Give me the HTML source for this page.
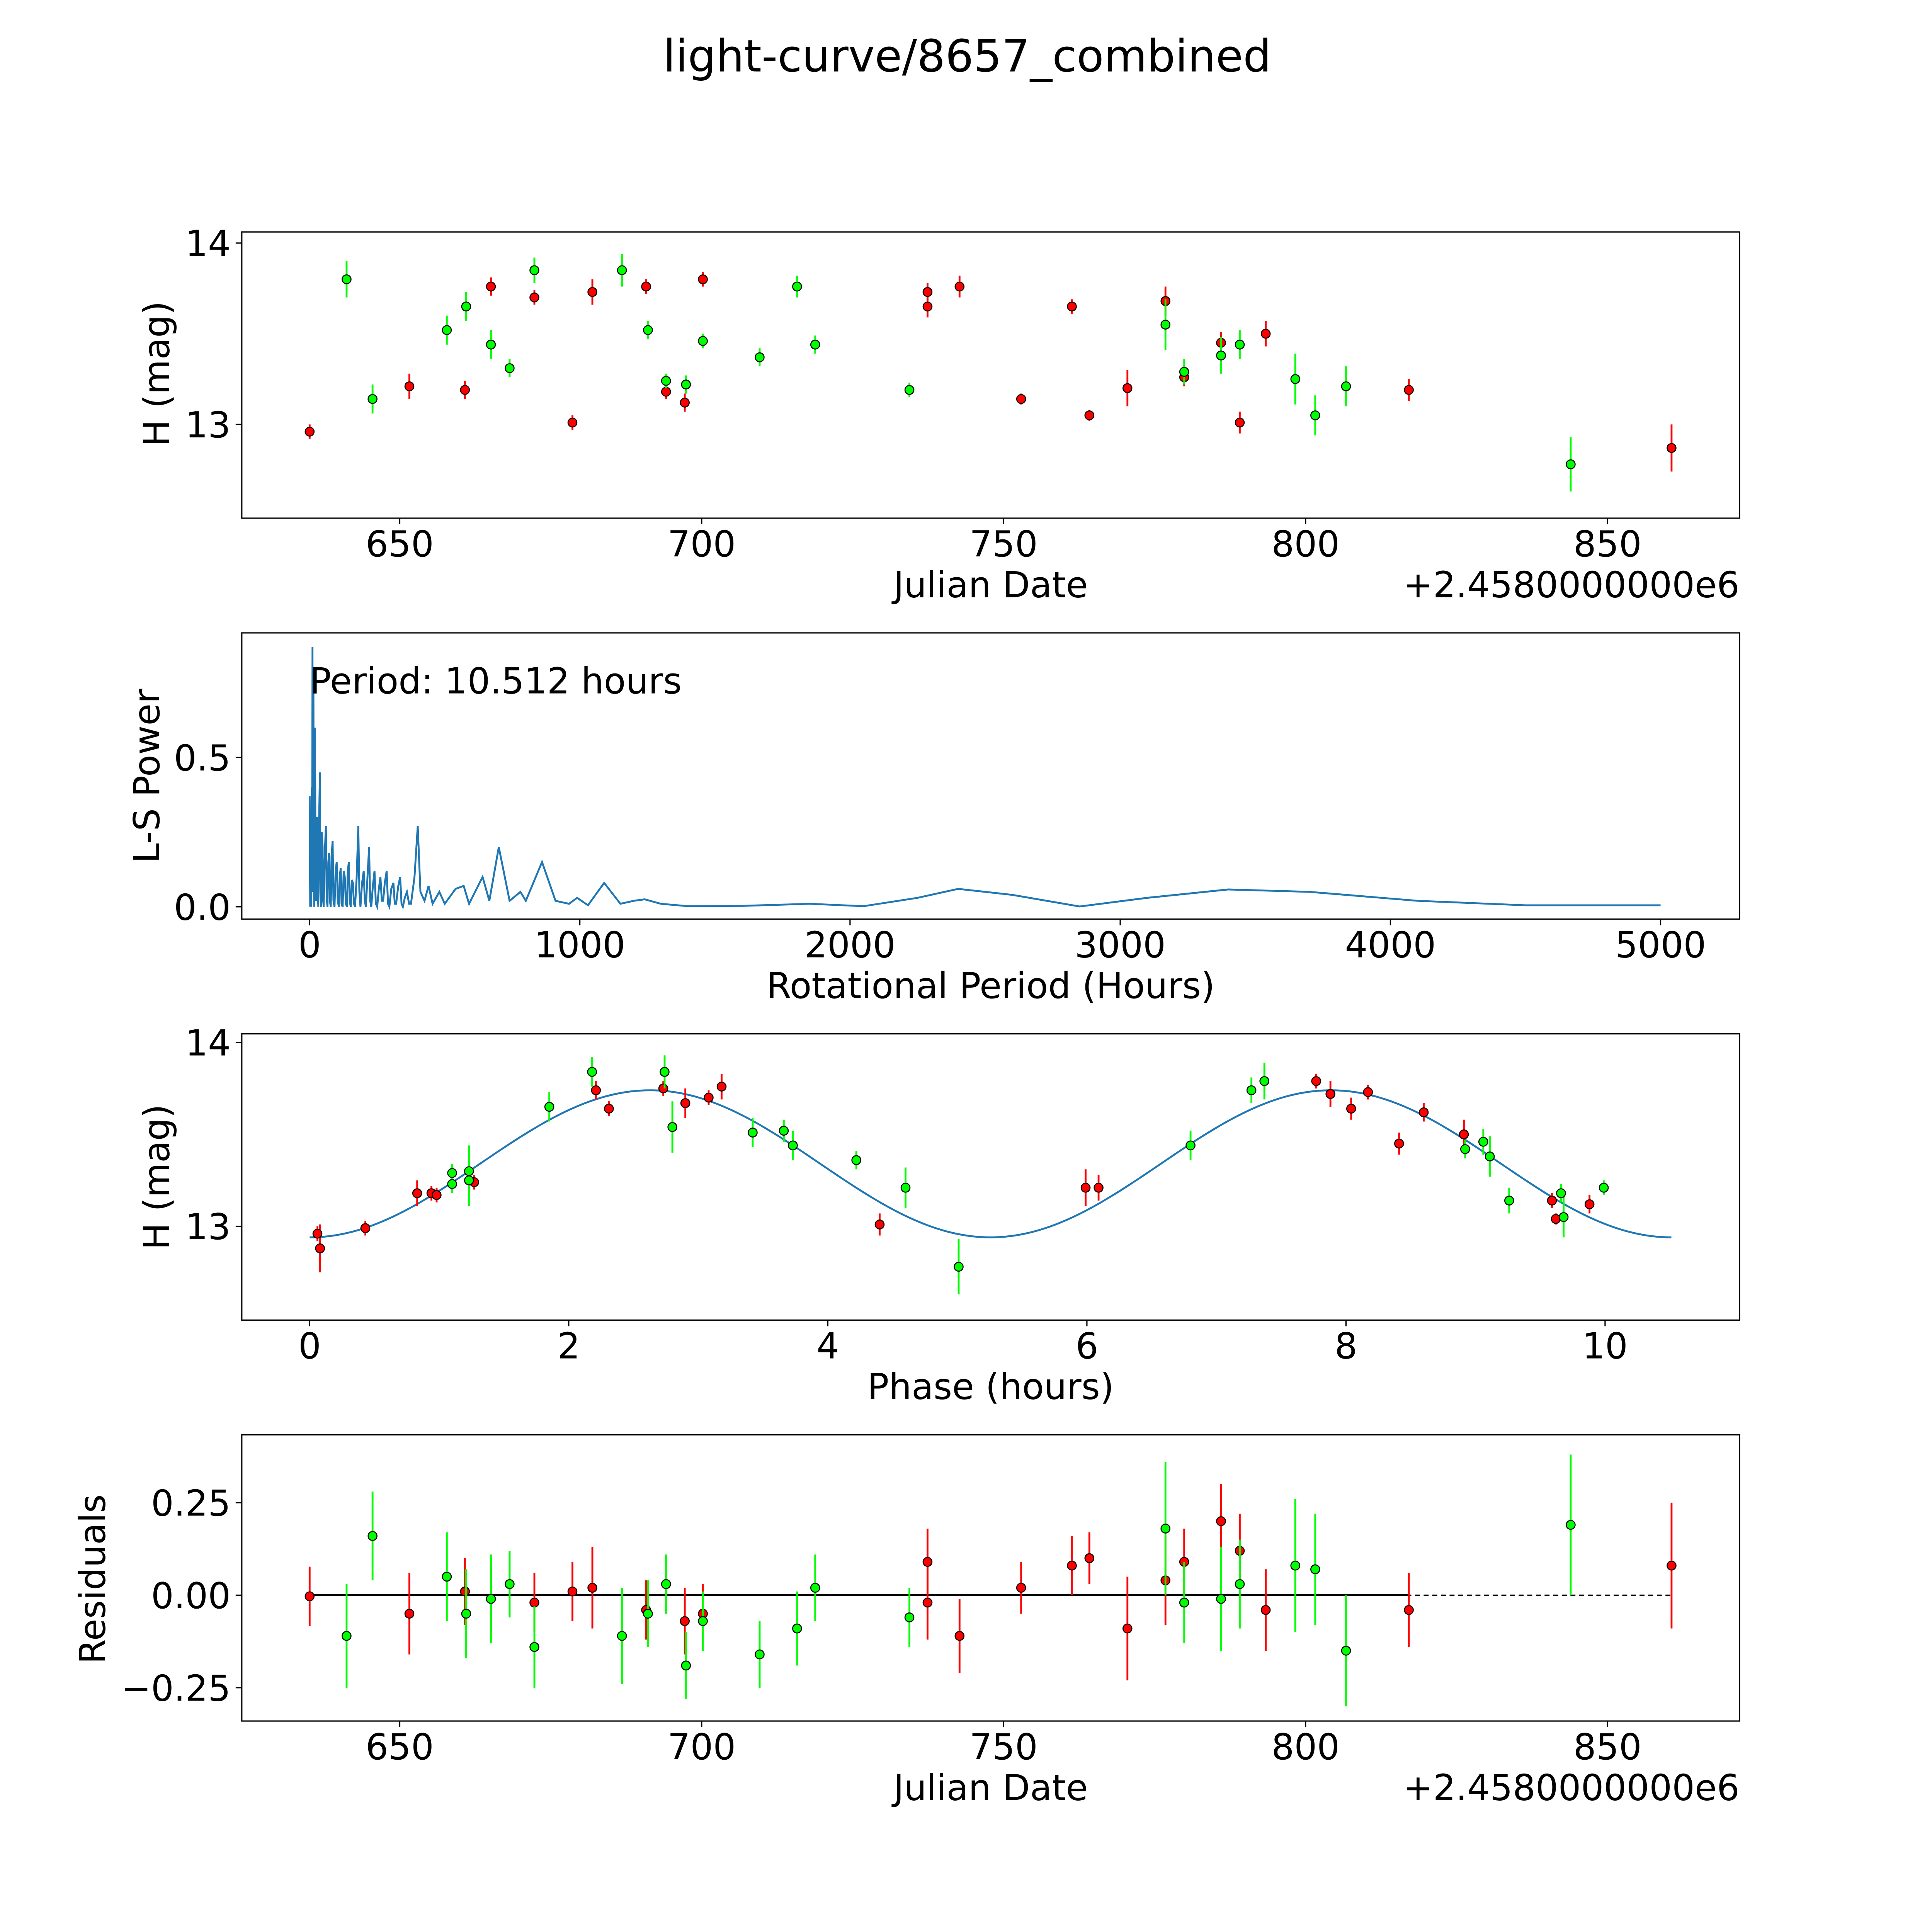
<!DOCTYPE html>
<html><head><meta charset="utf-8"><style>
html,body{margin:0;padding:0;background:#fff;overflow:hidden;width:100%;height:100%}
svg{display:block;width:100vw;height:100vh;font-family:"DejaVu Sans","Liberation Sans",sans-serif}
</style></head><body>
<svg id="fig" xmlns="http://www.w3.org/2000/svg" viewBox="0 0 1566 1566" preserveAspectRatio="none">
<rect width="1566" height="1566" fill="#fff"/>
<text x="784" y="58" font-size="36" text-anchor="middle">light-curve/8657_combined</text>
</svg>
<script>
// ---- data (observation dates are offsets from 2458000) ----
const redDays=[635.08,651.6,660.8,665.1,672.3,678.6,681.9,690.8,694.1,697.2,700.2,737.4,737.4,742.7,752.9,761.3,764.2,770.5,776.8,779.9,786.0,789.1,793.4,817.1,860.6];
const redMags=[12.96,13.21,13.19,13.76,13.70,13.01,13.73,13.76,13.18,13.12,13.80,13.73,13.65,13.76,13.14,13.65,13.05,13.20,13.68,13.26,13.45,13.01,13.50,13.19,12.87];
const redErrs=[0.04,0.07,0.05,0.05,0.04,0.04,0.07,0.04,0.04,0.05,0.04,0.05,0.06,0.06,0.03,0.04,0.03,0.10,0.08,0.05,0.06,0.06,0.07,0.06,0.13];
const redResid=[-0.003,-0.05,0.01,-0.01,-0.02,0.01,0.02,-0.04,0.03,-0.07,-0.05,0.09,-0.02,-0.11,0.02,0.08,0.10,-0.09,0.04,0.09,0.20,0.12,-0.04,-0.04,0.08];
const greenDays=[641.2,645.5,657.8,661.0,665.1,668.2,672.3,686.8,691.1,694.1,697.4,700.2,709.6,715.8,718.8,734.4,776.8,779.9,786.0,789.1,798.3,801.6,806.7,843.9];
const greenMags=[13.80,13.14,13.52,13.65,13.44,13.31,13.85,13.85,13.52,13.24,13.22,13.46,13.37,13.76,13.44,13.19,13.55,13.29,13.38,13.44,13.25,13.05,13.21,12.78];
const greenErrs=[0.10,0.08,0.08,0.08,0.08,0.05,0.07,0.09,0.05,0.04,0.05,0.04,0.05,0.06,0.05,0.04,0.14,0.07,0.10,0.08,0.14,0.11,0.11,0.15];
const greenResid=[-0.11,0.16,0.05,-0.05,-0.01,0.03,-0.14,-0.11,-0.05,0.03,-0.19,-0.07,-0.16,-0.09,0.02,-0.06,0.18,-0.02,-0.01,0.03,0.08,0.07,-0.15,0.19];
const redPhase=[0.06,0.08,0.43,0.83,0.94,0.98,1.27,2.21,2.31,2.73,2.90,3.08,3.18,4.40,5.99,6.09,7.77,7.88,8.04,8.17,8.41,8.60,8.91,9.59,9.62,9.88];
const redPhaseMags=[12.96,12.88,12.99,13.18,13.18,13.17,13.24,13.74,13.64,13.75,13.67,13.70,13.76,13.01,13.21,13.21,13.79,13.72,13.64,13.73,13.45,13.62,13.50,13.14,13.04,13.12];
const redPhaseErrs=[0.04,0.13,0.04,0.07,0.04,0.04,0.04,0.05,0.04,0.04,0.08,0.04,0.07,0.06,0.10,0.07,0.04,0.07,0.06,0.04,0.06,0.05,0.08,0.04,0.03,0.05];
const greenPhase=[1.10,1.10,1.23,1.23,1.85,2.18,2.74,2.80,3.42,3.66,3.73,4.22,4.60,5.01,6.80,7.27,7.37,8.92,9.06,9.11,9.26,9.66,9.68,9.99];
const greenPhaseMags=[13.29,13.23,13.30,13.25,13.65,13.84,13.84,13.54,13.51,13.52,13.44,13.36,13.21,12.78,13.44,13.74,13.79,13.42,13.46,13.38,13.14,13.18,13.05,13.21];
const greenPhaseErrs=[0.05,0.05,0.14,0.14,0.08,0.08,0.09,0.14,0.08,0.06,0.08,0.05,0.11,0.15,0.08,0.07,0.10,0.05,0.07,0.11,0.07,0.05,0.11,0.04];
const lsPeriods=[0,2,3,4,5,6,8,9,10.5,11,12,13,14,15,17,18,20,22,24,26,28,30,32,35,38,40,42,45,48,50,52,56,60,63,66,69,72,75,78,81,85,88,92,96,100,104,108,111,115,118,122,126,130,134,138,141,145,148,152,156,160,164,168,174,180,184,188,194,200,204,208,214,220,224,228,234,240,245,250,256,262,267,272,278,285,290,295,302,310,315,320,328,335,340,345,352,360,368,375,388,400,410,425,440,455,480,500,540,570,590,640,665,700,740,780,800,860,910,960,990,1030,1090,1150,1200,1240,1300,1400,1600,1850,2050,2250,2400,2600,2850,3100,3400,3700,4100,4500,5000];
const lsPower=[0.37,0,0.3,0.02,0.25,0,0.4,0.05,0.87,0.1,0.05,0.5,0.75,0.1,0,0.45,0.6,0.05,0.02,0.2,0.3,0.05,0,0.3,0.45,0.05,0,0.25,0.2,0.02,0,0.18,0.27,0.03,0,0.15,0.18,0.02,0,0.17,0.22,0.02,0,0.12,0.15,0.02,0,0.1,0.13,0.01,0,0.12,0.1,0.01,0,0.12,0.15,0.02,0,0.09,0.08,0.01,0,0.1,0.27,0.05,0,0.08,0.12,0.02,0,0.1,0.2,0.02,0,0.07,0.12,0.01,0,0.06,0.1,0.02,0.02,0.08,0.12,0.01,0,0.06,0.08,0.01,0.01,0.07,0.1,0.01,0,0.03,0.05,0.01,0.01,0.1,0.27,0.05,0.02,0.07,0.01,0.05,0.01,0.06,0.07,0.01,0.1,0.02,0.2,0.02,0.05,0.02,0.15,0.02,0.01,0.03,0.005,0.08,0.01,0.02,0.025,0.01,0.002,0.003,0.01,0.002,0.03,0.06,0.04,0.001,0.03,0.058,0.05,0.02,0.005,0.005];
const fitPeriod=10.512, fitMean=13.34, fitAmp=0.40;
const jdTicks=[650,700,750,800,850];
const magTicks=[13,14];
const lsXTicks=[0,1000,2000,3000,4000,5000];
const lsYTicks=[0,0.5];
const phaseTicks=[0,2,4,6,8,10];
const residTicks=[-0.25,0,0.25];

const NS='http://www.w3.org/2000/svg';
const fig=document.getElementById('fig');
const FS=29;
function mk(tag,attrs,parent){const e=document.createElementNS(NS,tag);for(const k in attrs)e.setAttribute(k,attrs[k]);(parent||fig).appendChild(e);return e;}
function lin(d0,d1,p0,p1){return v=>p0+(v-d0)*(p1-p0)/(d1-d0);}
const L=196,R=1410;
function axesFrame(name){const g=mk('g',{});return g;}
function box(g,top,bot){mk('rect',{x:L,y:top,width:R-L,height:bot-top,fill:'none',stroke:'#000','stroke-width':1},g);}
function xticks(g,ticks,xs,bot,fmt){ticks.forEach(t=>{const x=xs(t);mk('line',{x1:x,x2:x,y1:bot,y2:bot+5,stroke:'#000','stroke-width':1},g);const tx=mk('text',{x:x,y:bot+31,'font-size':FS,'text-anchor':'middle'},g);tx.textContent=fmt(t);});}
function yticks(g,ticks,ys,fmt){ticks.forEach(t=>{const y=ys(t);mk('line',{x1:L-5,x2:L,y1:y,y2:y,stroke:'#000','stroke-width':1},g);const tx=mk('text',{x:L-9,y:y+10.5,'font-size':FS,'text-anchor':'end'},g);tx.textContent=fmt(t);});}
function label(g,txt,x,y,rot,name){const t=mk('text',{x:x,y:y,'font-size':FS,'text-anchor':'middle',transform:rot?`rotate(-90 ${x} ${y})`:''},g);t.textContent=txt;return t;}
function points(g,xsArr,ysArr,errs,color,xs,ys){
  xsArr.forEach((d,i)=>{const x=xs(d);mk('line',{x1:x,x2:x,y1:ys(ysArr[i]-errs[i]),y2:ys(ysArr[i]+errs[i]),stroke:color,'stroke-width':1.5},g);});
  xsArr.forEach((d,i)=>{const c=mk('circle',{cx:xs(d),cy:ys(ysArr[i]),r:3.6,fill:color,stroke:'#000','stroke-width':0.8},g);});
}
const fmtPm=v=>(v<0?'\u22120.25':(v===0?'0.00':'0.25'));

// ---- Plot 1 ----
{const top=188,bot=420;const g=axesFrame('light-curve-axes');
 const xs=lin(650,850,324,1303), ys=lin(13,14,344,197);
 points(g,redDays,redMags,redErrs,'#ff0000',xs,ys);
 points(g,greenDays,greenMags,greenErrs,'#00ff00',xs,ys);
 box(g,top,bot);xticks(g,jdTicks,xs,bot,String);yticks(g,magTicks,ys,String);
 label(g,'Julian Date',803,484,false,'x-axis-title');label(g,'H (mag)',137,303,true,'y-axis-title');
 const o=mk('text',{x:R,y:484,'font-size':FS,'text-anchor':'end'},g);o.textContent='+2.4580000000e6';}
// ---- Plot 2 ----
{const top=513,bot=745;const g=axesFrame('periodogram-axes');
 const xs=lin(0,1000,251,470), ys=lin(0,0.5,735,614);
 const p=mk('polyline',{points:lsPeriods.map((d,i)=>xs(d)+','+ys(lsPower[i])).join(' '),fill:'none',stroke:'#1f77b4','stroke-width':1.5},g);
 
 box(g,top,bot);xticks(g,lsXTicks,xs,bot,String);yticks(g,lsYTicks,ys,v=>v.toFixed(1));
 label(g,'Rotational Period (Hours)',803,809,false,'x-axis-title');label(g,'L-S Power',129,629,true,'y-axis-title');
 const a=mk('text',{x:251,y:562,'font-size':FS},g);a.textContent='Period: 10.512 hours';}
// ---- Plot 3 ----
{const top=838,bot=1070;const g=axesFrame('phase-fold-axes');
 const xs=lin(0,2,251,461), ys=lin(13,14,994,845);
 const pts=[];for(let i=0;i<=300;i++){const ph=fitPeriod*i/300;pts.push(xs(ph)+','+ys(fitMean-fitAmp*Math.cos(4*Math.PI*ph/fitPeriod)));}
 const f=mk('polyline',{points:pts.join(' '),fill:'none',stroke:'#1f77b4','stroke-width':1.5},g);
 
 points(g,redPhase,redPhaseMags,redPhaseErrs,'#ff0000',xs,ys);
 points(g,greenPhase,greenPhaseMags,greenPhaseErrs,'#00ff00',xs,ys);
 box(g,top,bot);xticks(g,phaseTicks,xs,bot,String);yticks(g,magTicks,ys,String);
 label(g,'Phase (hours)',803,1134,false,'x-axis-title');label(g,'H (mag)',137,954,true,'y-axis-title');}
// ---- Plot 4 ----
{const top=1163,bot=1395;const g=axesFrame('residuals-axes');
 const xs=lin(650,850,324,1303), ys=lin(0,0.25,1293,1218);
 mk('line',{x1:xs(635.08),x2:xs(817.1),y1:ys(0),y2:ys(0),stroke:'#000','stroke-width':1.5},g);
 mk('line',{x1:xs(635.08),x2:xs(860.6),y1:ys(0),y2:ys(0),stroke:'#000','stroke-width':1,'stroke-dasharray':'4,3'},g);
 points(g,redDays,redResid,redErrs.map(e=>e+0.04),'#ff0000',xs,ys);
 points(g,greenDays,greenResid,greenErrs.map(e=>e+0.04),'#00ff00',xs,ys);
 box(g,top,bot);xticks(g,jdTicks,xs,bot,String);yticks(g,residTicks,ys,fmtPm);
 label(g,'Julian Date',803,1459,false,'x-axis-title');label(g,'Residuals',85,1280,true,'y-axis-title');
 const o=mk('text',{x:R,y:1459,'font-size':FS,'text-anchor':'end'},g);o.textContent='+2.4580000000e6';}
</script>
</body></html>
